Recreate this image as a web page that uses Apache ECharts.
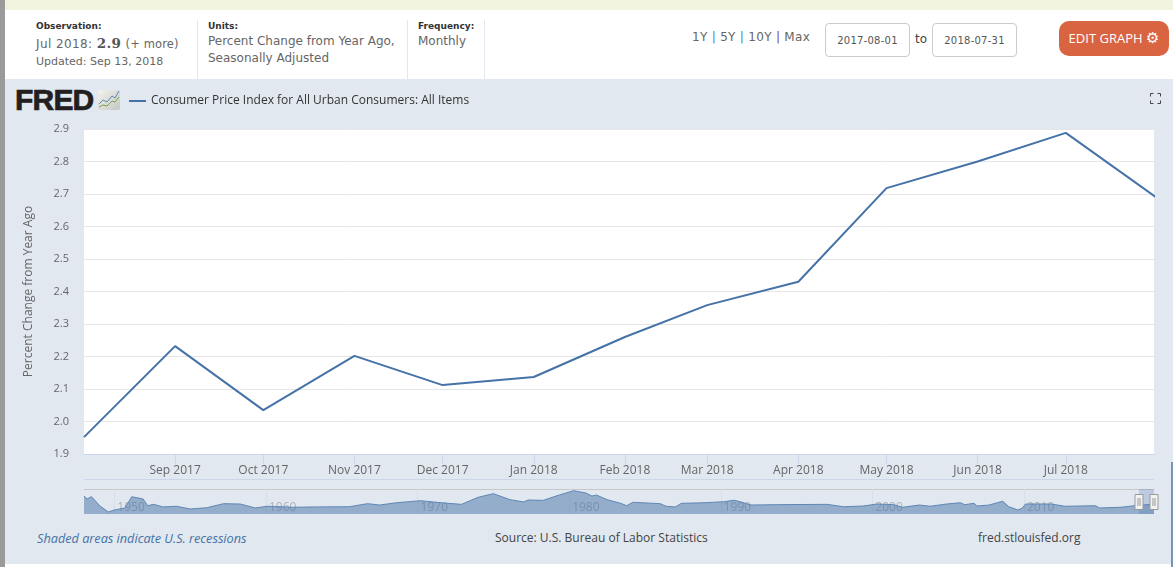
<!DOCTYPE html>
<html><head><meta charset="utf-8">
<script src="https://cdn.jsdelivr.net/npm/echarts@6/dist/echarts.min.js"></script>
<style>
html,body{margin:0;padding:0;width:1173px;height:567px;overflow:hidden;background:#fff}
.a{position:absolute;white-space:nowrap}
#chart{position:absolute;left:0;top:0;width:1173px;height:567px}
.h{font-family:"DejaVu Sans",sans-serif;color:#666;font-size:12px;line-height:17px}
.b{font-family:"DejaVu Sans",sans-serif;font-weight:bold;font-size:9px;color:#333;line-height:12px}
.box{position:absolute;border:1px solid #ccc;border-radius:4px;background:#fff;box-sizing:border-box;font-family:"DejaVu Sans",sans-serif;font-size:10px;color:#555;text-align:center;line-height:34px;letter-spacing:.25px}
.o{font-family:"Open Sans",sans-serif;font-size:12px;color:#444;line-height:16px}
</style></head><body>
<div class="a" style="left:0;top:0;width:1173px;height:10px;background:#f2f3df"></div>
<div class="a" style="left:0;top:79px;width:1173px;height:485px;background:#e1e8ef"></div>
<div class="a" style="left:197px;top:20px;width:1px;height:59px;background:#e1e8ef"></div>
<div class="a" style="left:407px;top:20px;width:1px;height:59px;background:#e1e8ef"></div>
<div class="a" style="left:484px;top:20px;width:1px;height:59px;background:#e1e8ef"></div>
<div class="a b" style="left:36px;top:20px">Observation:</div>
<div class="a h" style="left:36px;top:35px;font-size:12px;letter-spacing:.4px">Jul 2018: <span style="font-family:'DejaVu Serif',serif;font-weight:bold;font-size:13.5px;color:#555">2.9</span> <span style="font-size:11.5px;letter-spacing:.1px">(+ more)</span></div>
<div class="a h" style="left:36px;top:53px;font-size:11px">Updated: Sep 13, 2018</div>
<div class="a b" style="left:208px;top:20px">Units:</div>
<div class="a h" style="left:208px;top:33px">Percent Change from Year Ago,<br>Seasonally Adjusted</div>
<div class="a b" style="left:418px;top:20px">Frequency:</div>
<div class="a h" style="left:418px;top:33px">Monthly</div>
<div class="a h" style="left:692px;top:29px;font-size:12px;letter-spacing:.3px">1Y <span style="color:#3f7fbf">|</span> 5Y <span style="color:#3f7fbf">|</span> 10Y <span style="color:#7a3f8f">|</span> Max</div>
<div class="box" style="left:825px;top:23px;width:85px;height:34px">2017-08-01</div>
<div class="a h" style="left:915px;top:31px;color:#444">to</div>
<div class="box" style="left:932px;top:23px;width:85px;height:34px">2018-07-31</div>
<div class="a" style="left:1059px;top:21px;width:110px;height:35px;background:#d96442;border-radius:10px;color:#fff;font-family:'Open Sans',sans-serif;font-size:13px;line-height:35px;text-align:center">EDIT GRAPH <span style="font-family:'DejaVu Sans';font-size:15px">&#9881;</span></div>
<div class="a" style="left:15px;top:84px;font-family:'Liberation Sans',sans-serif;font-weight:bold;font-size:30px;line-height:32px;color:#231f20;letter-spacing:-.8px;transform-origin:0 50%;-webkit-text-stroke:.7px #231f20">FRED</div>
<svg class="a" style="left:98px;top:90px" width="22" height="20"><defs><linearGradient id="g" x1="0" y1="0" x2="1" y2="1"><stop offset="0" stop-color="#f2f2ee"/><stop offset="1" stop-color="#c4c8c4"/></linearGradient></defs><rect width="22" height="20" rx="2" fill="url(#g)"/><polyline points="1,14 5,10 9,12 14,6 17,8 21,1" fill="none" stroke="#5f86b5" stroke-width="1"/><polyline points="1,17 5,15 9,16 14,11 17,12 21,7" fill="none" stroke="#7da04a" stroke-width="1"/></svg>
<svg class="a" style="left:1150px;top:93px" width="11" height="11"><path d="M.5 3.5V.5H3.5M7.5 .5H10.5V3.5M10.5 7.5V10.5H7.5M3.5 10.5H.5V7.5" fill="none" stroke="#444" stroke-width="1"/></svg>
<div class="a" style="left:84px;top:479px;width:1070px;height:1px;background:#ccd6eb"></div>
<div class="a" style="left:84px;top:489px;width:1070px;height:1px;background:#c8c8c8"></div>
<div class="a o" style="left:37px;top:530px;color:#4572a7;font-style:italic;font-size:12.7px">Shaded areas indicate U.S. recessions</div>
<div class="a o" style="left:495px;top:530px">Source: U.S. Bureau of Labor Statistics</div>
<div class="a o" style="left:978px;top:530px">fred.stlouisfed.org</div>
<div id="chart"></div>
<div class="a" style="left:0;top:0;width:5px;height:567px;background:#9a9a9a"></div>
<div class="a" style="left:1171px;top:462px;width:2px;height:105px;background:#7a93b8"></div>
<script>
const seriesName = 'Consumer Price Index for All Urban Consumers: All Items';
const axisStart = '2017-08-01';
const axisEnd = '2018-07-31';
const dates = ['2017-08-01','2017-09-01','2017-10-01','2017-11-01','2017-12-01','2018-01-01','2018-02-01','2018-03-01','2018-04-01','2018-05-01','2018-06-01','2018-07-01','2018-08-01'];
const values = [1.952,2.232,2.035,2.202,2.112,2.137,2.26,2.358,2.43,2.718,2.80,2.888,2.688];
const tickDates = ['2017-09-01','2017-10-01','2017-11-01','2017-12-01','2018-01-01','2018-02-01','2018-03-01','2018-04-01','2018-05-01','2018-06-01','2018-07-01'];
const tickLabels = ['Sep 2017','Oct 2017','Nov 2017','Dec 2017','Jan 2018','Feb 2018','Mar 2018','Apr 2018','May 2018','Jun 2018','Jul 2018'];
const navYears = [1948,1948.2,1948.5,1949.05,1949.6,1950,1950.7,1951.15,1951.9,1952.2,1952.6,1953.2,1954.1,1955,1956.1,1957.2,1958.3,1959.3,1960.1,1961.8,1963.1,1965.5,1966.7,1967.5,1968.6,1970.2,1971.7,1972.9,1974,1975,1976.1,1977,1977.3,1978.3,1979.2,1980.3,1981.1,1981.5,1981.8,1982.5,1983.4,1983.8,1984.2,1986,1986.4,1987,1987.4,1988.9,1990.2,1990.9,1991.4,1992,1993.7,1997,1998.1,1999.4,2000.3,2001.4,2002,2003.1,2003.8,2004.9,2005.8,2006.1,2006.7,2006.9,2007.7,2008.6,2009,2009.6,2009.9,2010.1,2011.8,2012.7,2014.7,2015,2016.4,2017.3,2018.58];
const navValues = [9.8,7.2,9.2,1.0,-4.2,-2.5,-0.7,9.2,7.2,1.3,2.5,0.2,0.8,-1.6,-0.5,3.1,2.8,-0.7,0.8,-0.1,0.2,0.4,3.1,1.9,3.9,5.7,3.7,2.5,8.7,11.9,6.6,4.6,6.3,6,10.1,14.5,12.5,9.8,10.7,6.6,3.4,1.3,4.3,3.1,0.8,0.2,3.4,3.9,4.8,6.1,4.3,1.9,2.2,2.5,0.4,1,2.8,2.2,-0.1,1.9,0.8,2.8,3.9,2.2,3.4,1,1.9,5.2,0.4,-2.5,-0.7,2.8,2.8,0.8,1.3,-0.7,-0.1,1.3,2.7];
const navTicks = [1950,1960,1970,1980,1990,2000,2010];
const yTicks = {min:1.9,max:2.9,interval:0.1};
const yName = 'Percent Change from Year Ago';

const ms = s => new Date(s + 'T00:00:00').getTime();
const yearMs = y => { const Y = Math.floor(y); return new Date(Y,0,1).getTime() + (y - Y) * 365.25 * 864e5; };
const tickMs = tickDates.map(ms);
const navMs = navTicks.map(y=>new Date(y,0,1).getTime());
const chart = echarts.init(document.getElementById('chart'), null, {renderer:'canvas', width:1173, height:567});
const chartFont = 'Open Sans';
chart.setOption({
  backgroundColor:'transparent',
  animation:false,
  legend:{data:[seriesName],left:124,top:90,icon:'rect',itemWidth:17,itemHeight:2,itemGap:3,
    textStyle:{fontFamily:chartFont,fontSize:12,color:'#333'}},
  grid:[
    {left:84,right:19,top:129,height:325,show:true,backgroundColor:'#fff',borderWidth:0},
    {left:84,right:19,top:489,height:25,show:false}
  ],
  xAxis:[
    {type:'value',gridIndex:0,min:ms(axisStart),max:ms(axisEnd),
     axisLine:{show:true,lineStyle:{color:'#ccd6eb',width:1}},
     axisTick:{show:true,length:10,lineStyle:{color:'#ccd6eb'},customValues:tickMs},
     axisLabel:{customValues:tickMs,margin:11,color:'#666',fontFamily:chartFont,fontSize:12,hideOverlap:false,
       formatter:v=>tickLabels[tickMs.indexOf(+v)]||''},
     splitLine:{show:false}},
    {type:'value',gridIndex:1,min:yearMs(1948),max:ms(axisEnd),
     axisLine:{show:false},axisTick:{show:false,customValues:navMs},
     axisLabel:{customValues:navMs,inside:true,margin:0,align:'left',padding:[0,0,0,3],verticalAlign:'bottom',
       color:'rgba(110,110,110,0.45)',fontFamily:chartFont,fontSize:12,hideOverlap:false,
       formatter:v=>String(new Date(v).getFullYear())},
     splitLine:{show:true,lineStyle:{color:'#d6dee6',width:1}}}
  ],
  yAxis:[
    {type:'value',gridIndex:0,min:yTicks.min,max:yTicks.max,interval:yTicks.interval,
     name:yName,nameLocation:'middle',nameGap:49,nameRotate:90,
     nameTextStyle:{fontFamily:chartFont,fontSize:12,color:'#666'},
     axisLine:{show:false},axisTick:{show:false},
     axisLabel:{margin:15,color:'#666',fontFamily:chartFont,fontSize:11,formatter:v=>v.toFixed(1)},
     splitLine:{lineStyle:{color:'#e6e6e6',width:1}}},
    {type:'value',gridIndex:1,min:-6,max:16,show:false,splitLine:{show:false}}
  ],
  series:[
    {name:seriesName,type:'line',xAxisIndex:0,yAxisIndex:0,showSymbol:false,symbol:'none',clip:true,
     color:'#4572a7',lineStyle:{width:2,color:'#4572a7'},
     data:dates.map((d,i)=>[ms(d),values[i]])},
    {name:'navigator',type:'line',xAxisIndex:1,yAxisIndex:1,showSymbol:false,symbol:'none',
     lineStyle:{width:1,color:'#5f86b5'},areaStyle:{color:'#4572a7',opacity:.5,origin:'start'},
     data:navYears.map((y,i)=>[yearMs(y),navValues[i]]),
     markArea:{silent:true,itemStyle:{color:'rgba(102,133,194,0.3)'},
       data:[[{xAxis:ms(axisStart),yAxis:-6},{xAxis:ms(axisEnd),yAxis:16}]]}}
  ]
});
const hx = t => chart.convertToPixel({xAxisIndex:1},t);
const handle = x => ({type:'group',x:Math.round(x)-4.5,y:494,children:[
  {type:'rect',z:100,shape:{x:.5,y:.5,width:8,height:15},style:{fill:'#f2f2f2',stroke:'#999',lineWidth:1}},
  {type:'line',z:101,shape:{x1:3.5,y1:4,x2:3.5,y2:12},style:{stroke:'#999',lineWidth:1}},
  {type:'line',z:101,shape:{x1:5.5,y1:4,x2:5.5,y2:12},style:{stroke:'#999',lineWidth:1}}]});
chart.setOption({graphic:[handle(hx(ms(axisStart))),handle(hx(ms(axisEnd)))]});
</script>
</body></html>
